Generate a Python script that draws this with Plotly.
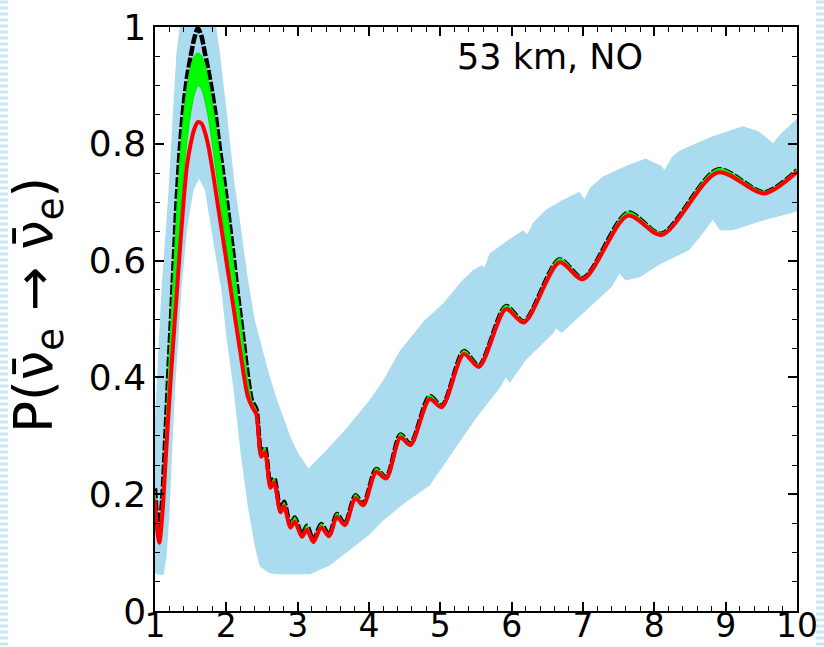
import plotly.graph_objects as go

# ---------------- data ----------------
E_curve = [1.00, 1.03, 1.06, 1.10, 1.15, 1.20, 1.25, 1.30, 1.35, 1.40, 1.45, 1.50, 1.55, 1.60,
           1.65, 1.70, 1.75, 1.80, 1.85, 1.90, 1.95, 2.00, 2.05, 2.10, 2.15, 2.20, 2.25, 2.30,
           2.36, 2.42, 2.49, 2.54, 2.62, 2.67, 2.76, 2.81, 2.90, 2.96, 3.06, 3.13, 3.22, 3.33,
           3.44, 3.55, 3.66, 3.81, 3.92, 4.10, 4.24, 4.44, 4.58, 4.85, 5.02, 5.33, 5.54, 5.92,
           6.17, 6.67, 7.00, 7.63, 8.10, 8.89, 9.54, 10.0]

red = [0.19, 0.14, 0.117, 0.16, 0.26, 0.36, 0.45, 0.535, 0.62, 0.70, 0.765, 0.80, 0.825, 0.837,
       0.835, 0.82, 0.795, 0.76, 0.72, 0.68, 0.64, 0.60, 0.56, 0.52, 0.48, 0.44, 0.40, 0.368,
       0.350, 0.337, 0.264, 0.272, 0.211, 0.220, 0.169, 0.179, 0.143, 0.153, 0.127, 0.139, 0.118, 0.143,
       0.128, 0.161, 0.147, 0.193, 0.181, 0.238, 0.227, 0.297, 0.284, 0.363, 0.349, 0.440, 0.418, 0.517,
       0.494, 0.597, 0.568, 0.677, 0.644, 0.751, 0.715, 0.752]

green_lo = [0.19, 0.14, 0.12, 0.165, 0.27, 0.38, 0.48, 0.575, 0.67, 0.75, 0.81, 0.855, 0.885, 0.90,
            0.895, 0.875, 0.845, 0.805, 0.76, 0.715, 0.67, 0.625, 0.58, 0.535, 0.49, 0.45, 0.41, 0.375,
            0.350, 0.337, 0.264, 0.272, 0.211, 0.220, 0.169, 0.179, 0.143, 0.153, 0.127, 0.139, 0.118, 0.143,
            0.128, 0.161, 0.147, 0.193, 0.181, 0.238, 0.227, 0.297, 0.284, 0.363, 0.349, 0.440, 0.418, 0.517,
            0.494, 0.597, 0.568, 0.677, 0.644, 0.751, 0.715, 0.752]

green_hi = [0.205, 0.155, 0.135, 0.185, 0.30, 0.43, 0.55, 0.67, 0.77, 0.845, 0.895, 0.93, 0.948, 0.955,
            0.95, 0.935, 0.905, 0.87, 0.83, 0.785, 0.74, 0.695, 0.645, 0.595, 0.545, 0.495, 0.445, 0.395,
            0.358, 0.344, 0.269, 0.280, 0.215, 0.227, 0.172, 0.186, 0.146, 0.160, 0.130, 0.146, 0.121, 0.149,
            0.131, 0.167, 0.150, 0.199, 0.184, 0.244, 0.230, 0.303, 0.287, 0.369, 0.352, 0.446, 0.421, 0.523,
            0.497, 0.603, 0.571, 0.683, 0.647, 0.757, 0.718, 0.756]

black = [0.21, 0.16, 0.14, 0.19, 0.31, 0.44, 0.565, 0.695, 0.795, 0.865, 0.915, 0.95, 0.98, 0.998,
         0.985, 0.955, 0.925, 0.89, 0.85, 0.80, 0.755, 0.71, 0.66, 0.61, 0.555, 0.505, 0.455, 0.405,
         0.360, 0.346, 0.270, 0.281, 0.215, 0.228, 0.172, 0.187, 0.146, 0.160, 0.130, 0.146, 0.121, 0.149,
         0.130, 0.166, 0.149, 0.198, 0.183, 0.243, 0.229, 0.302, 0.286, 0.368, 0.351, 0.445, 0.420, 0.522,
         0.496, 0.602, 0.570, 0.682, 0.646, 0.756, 0.717, 0.755]

E_up = [1.00, 1.02, 1.09, 1.19, 1.30, 1.40, 1.50, 1.60, 1.70, 1.80, 1.91, 2.00, 2.12, 2.20, 2.30,
        2.40, 2.50, 2.60, 2.70, 2.80, 2.90, 3.00, 3.15, 3.40, 3.70, 4.00, 4.20, 4.43, 4.78, 5.04,
        5.30, 5.46, 5.58, 5.62, 5.69, 5.95, 6.16, 6.22, 6.30, 6.48, 6.70, 6.95, 7.02, 7.10, 7.28,
        7.60, 7.88, 8.10, 8.14, 8.25, 8.35, 8.80, 9.24, 9.45, 9.56, 9.66, 9.80, 10.0]
band_up = [0.33, 0.38, 0.55, 0.72, 0.955, 1.05, 1.10, 1.12, 1.10, 1.05, 0.955, 0.86, 0.727, 0.66, 0.57,
           0.498, 0.450, 0.405, 0.365, 0.330, 0.298, 0.272, 0.244, 0.275, 0.315, 0.36, 0.395, 0.445, 0.498, 0.527,
           0.565, 0.584, 0.592, 0.588, 0.612, 0.635, 0.652, 0.645, 0.665, 0.687, 0.703, 0.718, 0.705, 0.725, 0.744,
           0.762, 0.775, 0.762, 0.755, 0.778, 0.788, 0.812, 0.830, 0.822, 0.812, 0.801, 0.82, 0.843]

E_lo = [1.00, 1.05, 1.12, 1.16, 1.20, 1.24, 1.28, 1.33, 1.37, 1.45, 1.54, 1.62, 1.70, 1.80, 1.93,
        2.00, 2.10, 2.20, 2.30, 2.40, 2.47, 2.60, 2.70, 3.17, 3.45, 3.73, 4.00, 4.20, 4.50, 4.85,
        5.13, 5.50, 5.85, 5.92, 5.97, 6.20, 6.58, 6.62, 6.70, 7.00, 7.40, 7.51, 7.60, 7.80, 8.10,
        8.49, 8.70, 8.82, 8.92, 9.10, 9.50, 10.0]
band_lo = [0.065, 0.062, 0.062, 0.09, 0.16, 0.27, 0.378, 0.47, 0.55, 0.655, 0.721, 0.74, 0.721, 0.645, 0.55,
           0.47, 0.38, 0.27, 0.18, 0.11, 0.076, 0.065, 0.063, 0.063, 0.078, 0.104, 0.13, 0.155, 0.185, 0.215,
           0.265, 0.33, 0.385, 0.40, 0.39, 0.43, 0.475, 0.484, 0.476, 0.51, 0.555, 0.578, 0.566, 0.572, 0.595,
           0.618, 0.650, 0.670, 0.652, 0.652, 0.668, 0.684]

x_ticks = [1, 2, 3, 4, 5, 6, 7, 8, 9, 10]
y_ticks = [0, 0.2, 0.4, 0.6, 0.8, 1]
y_ticklabels = ["0", "0.2", "0.4", "0.6", "0.8", "1"]
label_text = "53 km, NO"
y_title = "P(ν̄<sub>e</sub> → ν̄<sub>e</sub>)"

# ---------------- figure ----------------
fig = go.Figure()

# light-blue uncertainty band
fig.add_trace(go.Scatter(
    x=E_up + E_lo[::-1], y=band_up + band_lo[::-1],
    mode="lines", fill="toself", fillcolor="#abdbef",
    line=dict(width=0, color="#abdbef"), hoverinfo="skip", showlegend=False))

# black dashed curve
fig.add_trace(go.Scatter(
    x=E_curve, y=black, mode="lines",
    line=dict(color="black", width=4.5, dash="10px,2px", shape="spline", smoothing=0.8),
    showlegend=False))

# green band
fig.add_trace(go.Scatter(
    x=E_curve, y=green_lo, mode="lines",
    line=dict(color="#00ee00", width=1.5, shape="spline", smoothing=0.8),
    showlegend=False))
fig.add_trace(go.Scatter(
    x=E_curve, y=green_hi, mode="lines", fill="tonexty", fillcolor="#00ff00",
    line=dict(color="#00ee00", width=1.5, shape="spline", smoothing=0.8), showlegend=False))

# red curve
fig.add_trace(go.Scatter(
    x=E_curve, y=red, mode="lines",
    line=dict(color="#ff0000", width=4, shape="spline", smoothing=0.8),
    showlegend=False))

axis_common = dict(
    showline=True, linecolor="black", linewidth=1.5, mirror="allticks",
    ticks="inside", ticklen=9, tickwidth=1.5, tickcolor="black",
    showgrid=False, zeroline=False,
)

fig.update_xaxes(range=[1, 10], tickvals=x_ticks, ticklabelstandoff=-15,
                 tickfont=dict(family="DejaVu Sans", size=33, color="black"),
                 minor=dict(dtick=0.2, ticks="inside", ticklen=5, tickwidth=1.2, tickcolor="black"),
                 **axis_common)
fig.update_yaxes(range=[0, 1], tickvals=y_ticks, ticktext=y_ticklabels,
                 tickfont=dict(family="DejaVu Sans", size=36, color="black"),
                 minor=dict(dtick=0.05, ticks="inside", ticklen=5, tickwidth=1.2, tickcolor="black"),
                 **axis_common)

W, H = 824, 647
L, R, T, B = 155, 27, 27, 36
pw = W - L - R
ph = H - T - B

fig.add_annotation(text=label_text, xref="paper", yref="paper",
                   x=(550 - L) / pw, y=1 - (57 - T) / ph,
                   showarrow=False, xanchor="center", yanchor="middle",
                   font=dict(family="DejaVu Sans", size=35, color="black"))

fig.add_annotation(text=y_title, xref="paper", yref="paper",
                   x=(37 - L) / pw, y=1 - (305 - T) / ph, textangle=-90,
                   showarrow=False, xanchor="center", yanchor="middle",
                   font=dict(family="DejaVu Sans", size=53, color="black"))

# striped page edges
for xpx in (4, 820):
    fig.add_shape(type="line", xref="paper", yref="paper",
                  x0=(xpx - L) / pw, x1=(xpx - L) / pw, y0=-0.1, y1=1.1,
                  line=dict(color="#c9e5f6", width=8, dash="3px,3px"), layer="below")

fig.update_layout(
    width=W, height=H, margin=dict(l=L, r=R, t=T, b=B, autoexpand=False),
    paper_bgcolor="white", plot_bgcolor="white", showlegend=False,
)

fig.write_html("out.html")
